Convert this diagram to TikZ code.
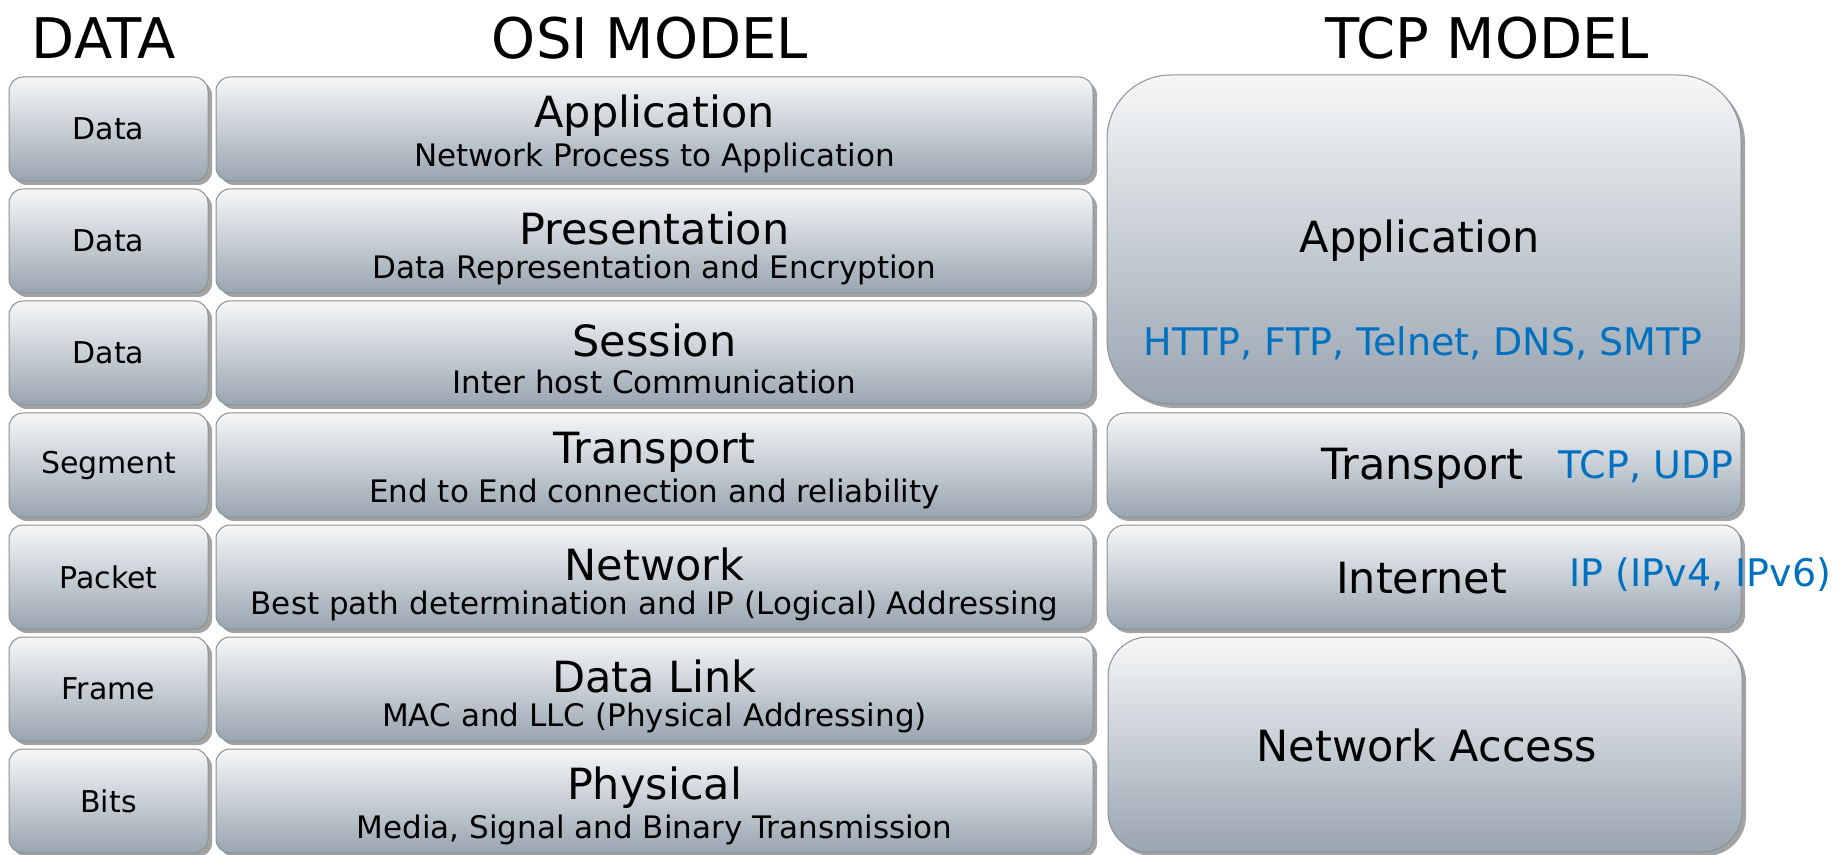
\documentclass[tikz,border=0pt]{standalone}
\usepackage{fontspec}
\setmainfont{DejaVu Sans}
\usetikzlibrary{shadows}

\definecolor{layertop}{HTML}{F6F7F8}
\definecolor{layerbottom}{HTML}{99A5B1}
\definecolor{layerline}{HTML}{8A9097}
\definecolor{protoblue}{HTML}{0070C0}

\newcommand{\px}{0.5pt}
\newcommand{\headfont}{\fontsize{28}{32}\selectfont}
\newcommand{\namefont}{\fontsize{21.5}{25}\selectfont}
\newcommand{\subfont}{\fontsize{15.5}{18}\selectfont}
\newcommand{\pdufont}{\fontsize{15}{18}\selectfont}
\newcommand{\protofont}{\fontsize{19}{22}\selectfont}

\begin{document}
\begin{tikzpicture}[x = \px, y = -\px,
  layer/.style = {draw = layerline, line width = 0.5pt, top color = layertop, bottom color = layerbottom,
    rounded corners = 7pt, inner sep = 0pt,
    drop shadow = {shadow xshift = 2pt, shadow yshift = -2pt, opacity = 0.45, fill = black!80}},
  pdu/.style = {layer, minimum width = 99.5pt, minimum height = 52pt, font = \pdufont},
  osi/.style = {layer, minimum width = 438.5pt, minimum height = 52pt},
  tcp/.style = {layer, minimum width = 317pt},
  proto/.style = {text = protoblue, font = \protofont}]

\useasboundingbox (0,0) rectangle (1847,855);

\node (hdata) at (104,38) {\headfont DATA};
\node (hosi) at (650,38) {\headfont OSI MODEL};
\node (htcp) at (1487,38) {\headfont TCP MODEL};

\node [pdu] (d1) at (108.5,129) {Data};
\node [pdu] (d2) at (108.5,241) {Data};
\node [pdu] (d3) at (108.5,353) {Data};
\node [pdu] (d4) at (108.5,465) {Segment};
\node [pdu] (d5) at (108.5,577) {Packet};
\node [pdu] (d6) at (108.5,689) {Frame};
\node [pdu] (d7) at (108.5,801) {Bits};

\node [osi] (o1) at (654.5,129) {};
\node [osi] (o2) at (654.5,241) {};
\node [osi] (o3) at (654.5,353) {};
\node [osi] (o4) at (654.5,465) {};
\node [osi] (o5) at (654.5,577) {};
\node [osi] (o6) at (654.5,689) {};
\node [osi] (o7) at (654.5,801) {};

\node (n1) at (654.5,116) {\namefont Application};
\node (s1) at (654.5,158) {\subfont Network Process to Application};
\node (n2) at (654.5,228) {\namefont Presentation};
\node (s2) at (654.5,270) {\subfont Data Representation and Encryption};
\node (n3) at (654.5,340) {\namefont Session};
\node (s3) at (654.5,382) {\subfont Inter host Communication};
\node (n4) at (654.5,452) {\namefont Transport};
\node (s4) at (654.5,494) {\subfont End to End connection and reliability};
\node (n5) at (654.5,564) {\namefont Network};
\node (s5) at (654.5,606) {\subfont Best path determination and IP (Logical) Addressing};
\node (n6) at (654.5,676) {\namefont Data Link};
\node (s6) at (654.5,718) {\subfont MAC and LLC (Physical Addressing)};
\node (n7) at (654.5,788) {\namefont Physical};
\node (s7) at (654.5,830) {\subfont Media, Signal and Binary Transmission};

\node [tcp, minimum height = 164.5pt, rounded corners = 32pt] (t1) at (1424,239.5) {};
\node [tcp, minimum height = 52pt, rounded corners = 9pt] (t2) at (1424,465) {};
\node [tcp, minimum height = 52pt, rounded corners = 9pt] (t3) at (1424,577) {};
\node [tcp, minimum height = 107.5pt, rounded corners = 20pt] (t4) at (1425,744.5) {};

\node (a1) at (1420,241) {\namefont Application};
\node [proto] (p1) at (1423,343) {HTTP, FTP, Telnet, DNS, SMTP};
\node (a2) at (1422.5,468) {\namefont Transport};
\node [proto] (p2) at (1646,467) {TCP, UDP};
\node (a3) at (1421.5,578) {\namefont Internet};
\node [proto] (p3) at (1700.5,575) {IP (IPv4, IPv6)};
\node (a4) at (1427,745) {\namefont Network Access};
\end{tikzpicture}
\end{document}
